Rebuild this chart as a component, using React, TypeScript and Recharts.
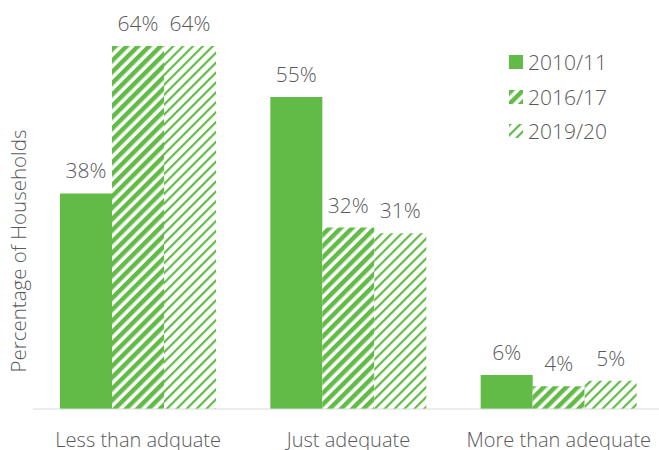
import React from "react";
import { Bar, BarChart, LabelList, XAxis, YAxis } from "recharts";

const categories = ["Less than adquate", "Just adequate", "More than adequate"];
const y2010 = [38, 55, 6];
const y2016 = [64, 32, 4];
const y2019 = [64, 31, 5];
const seriesNames = ["2010/11", "2016/17", "2019/20"];

const data = categories.map((name, i) => ({
  name,
  a: y2010[i],
  b: y2016[i],
  c: y2019[i],
}));

const GREEN = "#62bb46";
const TEXT = "#595959";
const FONT = "'Open Sans', 'Noto Sans', sans-serif";
const WEIGHT = 300;

function Patterns({ prefix }: { prefix: string }) {
  return (
    <defs>
      <pattern id={`${prefix}-wide`} width="8" height="8" patternUnits="userSpaceOnUse" patternTransform="rotate(45)">
        <rect width="8" height="8" fill="#ffffff" />
        <rect width="4.5" height="8" fill={GREEN} />
      </pattern>
      <pattern id={`${prefix}-light`} width="7" height="7" patternUnits="userSpaceOnUse" patternTransform="rotate(45)">
        <rect width="7" height="7" fill="#ffffff" />
        <rect width="2.2" height="7" fill={GREEN} />
      </pattern>
    </defs>
  );
}

function LegendBox() {
  const fills = [GREEN, "url(#lg-wide)", "url(#lg-light)"];
  return (
    <div style={{ position: "absolute", left: 509, top: 45, fontFamily: FONT, fontWeight: WEIGHT }}>
      {seriesNames.map((s, i) => (
        <div key={s} style={{ display: "flex", alignItems: "center", height: 34.5 }}>
          <svg width={14} height={14} style={{ marginRight: 5 }}>
            <Patterns prefix="lg" />
            <rect width={14} height={14} fill={fills[i]} />
          </svg>
          <span style={{ fontSize: 21, color: TEXT }}>{s}</span>
        </div>
      ))}
    </div>
  );
}

const pct = (v: any) => `${v}%`;

export default function App() {
  return (
    <div style={{ position: "absolute", left: 0, top: 0, width: 659, height: 450, overflow: "hidden", background: "#fff" }}>
      <BarChart
        width={664}
        height={450}
        data={data}
        margin={{ top: 12, right: 0, bottom: 0, left: 0 }}
        barGap={0}
        barSize={52}
      >
        <Patterns prefix="ch" />
        <XAxis
          dataKey="name"
          height={41}
          tickLine={false}
          axisLine={{ stroke: "#d9d9d9" }}
          tick={{ fontSize: 20, fill: TEXT, fontFamily: FONT, fontWeight: WEIGHT }}
          tickMargin={18}
        />
        <YAxis
          width={33}
          domain={[0, 70]}
          tick={false}
          axisLine={false}
          tickLine={false}
          label={{
            content: () => (
              <text
                x={0}
                y={0}
                transform="translate(26,251) rotate(-90)"
                textAnchor="middle"
                fontSize={20.5}
                fill={TEXT}
                fontFamily={FONT}
                fontWeight={WEIGHT}
              >
                Percentage of Households
              </text>
            ),
          }}
        />
        <Bar dataKey="a" fill={GREEN} isAnimationActive={false}>
          <LabelList dataKey="a" position="top" offset={15} formatter={pct} fill={TEXT} fontSize={21} fontFamily={FONT} fontWeight={WEIGHT} />
        </Bar>
        <Bar dataKey="b" fill="url(#ch-wide)" isAnimationActive={false}>
          <LabelList dataKey="b" position="top" offset={15} formatter={pct} fill={TEXT} fontSize={21} fontFamily={FONT} fontWeight={WEIGHT} />
        </Bar>
        <Bar dataKey="c" fill="url(#ch-light)" isAnimationActive={false}>
          <LabelList dataKey="c" position="top" offset={15} formatter={pct} fill={TEXT} fontSize={21} fontFamily={FONT} fontWeight={WEIGHT} />
        </Bar>
      </BarChart>
      <LegendBox />
    </div>
  );
}
